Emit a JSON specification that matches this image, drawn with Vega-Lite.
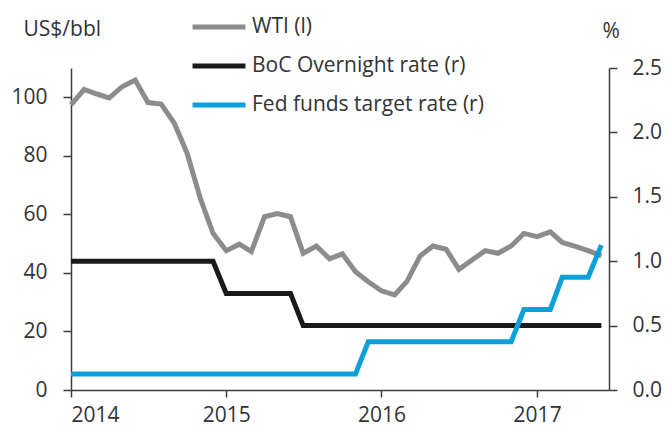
{
  "$schema": "https://vega.github.io/schema/vega-lite/v6.json",
  "width": 538,
  "height": 322,
  "autosize": {"type": "none"},
  "padding": {"left": 71, "top": 68, "right": 59, "bottom": 40},
  "background": "white",
  "config": {
    "view": {"stroke": null},
    "font": "Open Sans",
    "axis": {
      "grid": false,
      "domainColor": "#3c3c3c",
      "tickColor": "#3c3c3c",
      "labelColor": "#333333",
      "titleColor": "#333333",
      "domainWidth": 1.5,
      "tickWidth": 1.5,
      "tickSize": 8,
      "labelFontSize": 21,
      "labelFont": "Open Sans",
      "titleFont": "Open Sans",
      "titleFontSize": 21,
      "titleFontWeight": "normal",
      "labelPadding": 15
    },
    "legend": {
      "orient": "none",
      "legendX": 119,
      "legendY": -70,
      "symbolType": "stroke",
      "symbolSize": 2800,
      "symbolStrokeWidth": 5,
      "labelFontSize": 21,
      "labelFont": "Open Sans",
      "labelColor": "#333333",
      "labelOffset": 4,
      "labelLimit": 0,
      "rowPadding": 0,
      "title": null
    }
  },
  "data": {
    "values": [
      {"date": "2014/01/01", "wti": 97.4, "boc": 1.0, "fed": 0.125},
      {"date": "2014/02/01", "wti": 102.7, "boc": 1.0, "fed": 0.125},
      {"date": "2014/03/01", "wti": 101.2, "boc": 1.0, "fed": 0.125},
      {"date": "2014/04/01", "wti": 99.8, "boc": 1.0, "fed": 0.125},
      {"date": "2014/05/01", "wti": 103.6, "boc": 1.0, "fed": 0.125},
      {"date": "2014/06/01", "wti": 105.9, "boc": 1.0, "fed": 0.125},
      {"date": "2014/07/01", "wti": 98.2, "boc": 1.0, "fed": 0.125},
      {"date": "2014/08/01", "wti": 97.7, "boc": 1.0, "fed": 0.125},
      {"date": "2014/09/01", "wti": 91.1, "boc": 1.0, "fed": 0.125},
      {"date": "2014/10/01", "wti": 80.9, "boc": 1.0, "fed": 0.125},
      {"date": "2014/11/01", "wti": 65.5, "boc": 1.0, "fed": 0.125},
      {"date": "2014/12/01", "wti": 53.5, "boc": 1.0, "fed": 0.125},
      {"date": "2015/01/01", "wti": 47.6, "boc": 0.75, "fed": 0.125},
      {"date": "2015/02/01", "wti": 49.8, "boc": 0.75, "fed": 0.125},
      {"date": "2015/03/01", "wti": 47.3, "boc": 0.75, "fed": 0.125},
      {"date": "2015/04/01", "wti": 59.2, "boc": 0.75, "fed": 0.125},
      {"date": "2015/05/01", "wti": 60.3, "boc": 0.75, "fed": 0.125},
      {"date": "2015/06/01", "wti": 59.2, "boc": 0.75, "fed": 0.125},
      {"date": "2015/07/01", "wti": 46.7, "boc": 0.5, "fed": 0.125},
      {"date": "2015/08/01", "wti": 49.2, "boc": 0.5, "fed": 0.125},
      {"date": "2015/09/01", "wti": 44.8, "boc": 0.5, "fed": 0.125},
      {"date": "2015/10/01", "wti": 46.5, "boc": 0.5, "fed": 0.125},
      {"date": "2015/11/01", "wti": 40.4, "boc": 0.5, "fed": 0.125},
      {"date": "2015/12/01", "wti": 37.0, "boc": 0.5, "fed": 0.375},
      {"date": "2016/01/01", "wti": 33.9, "boc": 0.5, "fed": 0.375},
      {"date": "2016/02/01", "wti": 32.5, "boc": 0.5, "fed": 0.375},
      {"date": "2016/03/01", "wti": 37.1, "boc": 0.5, "fed": 0.375},
      {"date": "2016/04/01", "wti": 45.8, "boc": 0.5, "fed": 0.375},
      {"date": "2016/05/01", "wti": 49.2, "boc": 0.5, "fed": 0.375},
      {"date": "2016/06/01", "wti": 48.1, "boc": 0.5, "fed": 0.375},
      {"date": "2016/07/01", "wti": 41.2, "boc": 0.5, "fed": 0.375},
      {"date": "2016/08/01", "wti": 44.4, "boc": 0.5, "fed": 0.375},
      {"date": "2016/09/01", "wti": 47.6, "boc": 0.5, "fed": 0.375},
      {"date": "2016/10/01", "wti": 46.7, "boc": 0.5, "fed": 0.375},
      {"date": "2016/11/01", "wti": 49.2, "boc": 0.5, "fed": 0.375},
      {"date": "2016/12/01", "wti": 53.5, "boc": 0.5, "fed": 0.625},
      {"date": "2017/01/01", "wti": 52.4, "boc": 0.5, "fed": 0.625},
      {"date": "2017/02/01", "wti": 54.0, "boc": 0.5, "fed": 0.625},
      {"date": "2017/03/01", "wti": 50.4, "boc": 0.5, "fed": 0.875},
      {"date": "2017/04/01", "wti": 49.1, "boc": 0.5, "fed": 0.875},
      {"date": "2017/05/01", "wti": 47.6, "boc": 0.5, "fed": 0.875},
      {"date": "2017/06/01", "wti": 45.8, "boc": 0.5, "fed": 1.125}
    ]
  },
  "encoding": {
    "x": {
      "field": "date",
      "type": "temporal",
      "scale": {
        "domain": [
          {"year": 2014, "month": 1, "date": 1},
          {"year": 2017, "month": 6, "date": 19}
        ],
        "nice": false
      },
      "axis": {
        "title": null,
        "format": "%Y",
        "labelAngle": 0,
        "tickSize": 7,
        "labelPadding": 7,
        "values": [
          {"year": 2014, "month": 1, "date": 1},
          {"year": 2015, "month": 1, "date": 1},
          {"year": 2016, "month": 1, "date": 1},
          {"year": 2017, "month": 1, "date": 1}
        ]
      }
    }
  },
  "layer": [
    {
      "mark": {"type": "line", "strokeWidth": 5, "strokeJoin": "miter"},
      "encoding": {
        "y": {
          "field": "wti",
          "type": "quantitative",
          "scale": {"domain": [0, 110], "nice": false},
          "axis": {
            "orient": "left",
            "values": [0, 20, 40, 60, 80, 100],
            "labelPadding": 16,
            "title": "US$/bbl",
            "titleAngle": 0,
            "titleAlign": "left",
            "titleBaseline": "alphabetic",
            "titleX": -48,
            "titleY": -33
          }
        },
        "color": {
          "datum": "WTI (l)",
          "scale": {
            "domain": ["WTI (l)", "BoC Overnight rate (r)", "Fed funds target rate (r)"],
            "range": ["#8c8c8c", "#1a1a1a", "#0aa0d9"]
          }
        }
      }
    },
    {
      "layer": [
        {
          "mark": {"type": "line", "strokeWidth": 5, "strokeJoin": "miter"},
          "encoding": {
            "y": {
              "field": "boc",
              "type": "quantitative",
              "scale": {"domain": [0, 2.5], "nice": false},
              "axis": {
                "orient": "right",
                "values": [0, 0.5, 1, 1.5, 2, 2.5],
                "format": ".1f",
                "labelPadding": 15,
                "title": "%",
                "titleAngle": 0,
                "titleAlign": "left",
                "titleBaseline": "alphabetic",
                "titleX": -7,
                "titleY": -31
              }
            },
            "color": {"datum": "BoC Overnight rate (r)"}
          }
        },
        {
          "mark": {"type": "line", "strokeWidth": 5, "strokeJoin": "miter"},
          "encoding": {
            "y": {"field": "fed", "type": "quantitative"},
            "color": {"datum": "Fed funds target rate (r)"}
          }
        }
      ]
    }
  ],
  "resolve": {"scale": {"y": "independent"}}
}
